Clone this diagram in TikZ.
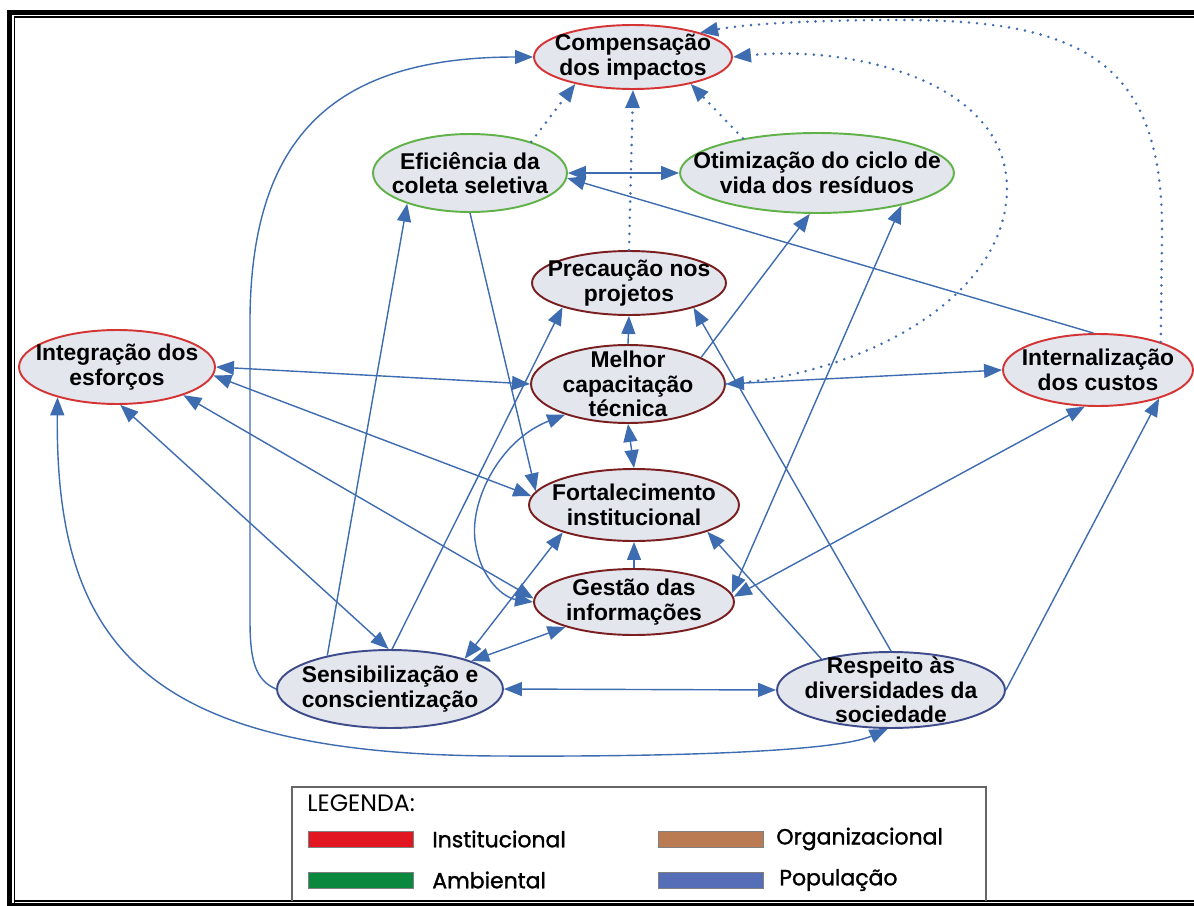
\documentclass[tikz,border=0pt]{standalone}
\usepackage{fontspec}
\setmainfont{Liberation Sans}
\newfontfamily\legfont{Poppins}
\newfontfamily\legitemfont[FakeBold=1.4]{Poppins}
\usetikzlibrary{shapes.geometric,arrows.meta}

\definecolor{nodefill}{RGB}{228,230,238}
\definecolor{linkblue}{RGB}{62,108,176}
\definecolor{instred}{RGB}{212,52,52}
\definecolor{ambgreen}{RGB}{96,178,72}
\definecolor{orgbrown}{RGB}{122,30,32}
\definecolor{popblue}{RGB}{62,76,140}
\definecolor{swred}{RGB}{226,22,32}
\definecolor{swbrown}{RGB}{186,122,82}
\definecolor{swgreen}{RGB}{10,136,62}
\definecolor{swblue}{RGB}{86,110,184}
\newcommand{\entfont}{\fontsize{13}{14}\selectfont\bfseries}

\tikzset{
  ent/.style={ellipse, draw, line width=1.1pt, fill=nodefill, inner sep=0pt},
  txt/.style={font=\entfont, align=center},
  inst/.style={ent, draw=instred},
  amb/.style={ent, draw=ambgreen},
  org/.style={ent, draw=orgbrown},
  pop/.style={ent, draw=popblue},
  tip/.tip={Triangle[length=3.6mm,width=2.8mm]},
  link/.style={draw=linkblue, line width=0.8pt, -tip},
  both/.style={link, tip-tip},
  dots/.style={link, line width=1.6pt, line cap=round, dash pattern=on 0pt off 4.6pt},
  swatch/.style={draw=black!50, line width=0.3pt, minimum width=2.1cm, minimum height=0.32cm, inner sep=0pt},
  legtxt/.style={anchor=west, inner sep=0pt, font=\legitemfont\fontsize{12.5}{14}\selectfont}
}

\begin{document}
\begin{tikzpicture}[x=0.02cm, y=-0.02cm]
\useasboundingbox (0,0) rectangle (1194,906);

% moldura
\fill (7,9.5) rectangle (1194,15);
\fill (7,9.5) rectangle (12,906);
\fill (12,903) rectangle (1194,906);
\draw[line width=0.85pt] (14.5,906) -- (14.5,17) -- (1194,17);
\draw[line width=0.85pt] (14.5,901) -- (1194,901);

% componentes
\node[inst, minimum width=3.96cm, minimum height=1.28cm, label={[txt]center:{Compensação\\dos impactos}}] (comp) at (633,57) {};
\node[amb, minimum width=3.88cm, minimum height=1.56cm, label={[txt]center:{Eficiência da\\coleta seletiva}}] (efic) at (470,173) {};
\node[amb, minimum width=5.48cm, minimum height=1.6cm, label={[txt]center:{Otimização do ciclo de\\vida dos resíduos}}] (otim) at (817,173) {};
\node[org, minimum width=3.88cm, minimum height=1.28cm, label={[txt]center:{Precaução nos\\projetos}}] (prec) at (629,283) {};
\node[org, minimum width=3.88cm, minimum height=1.56cm, label={[txt]center:{Melhor\\capacitação\\técnica}}] (melh) at (628,384) {};
\node[org, minimum width=4.2cm, minimum height=1.44cm, label={[txt]center:{Fortalecimento\\institucional}}] (fort) at (634,505) {};
\node[org, minimum width=4.0cm, minimum height=1.32cm, label={[txt]center:{Gestão das\\informações}}] (gest) at (634,602) {};
\node[pop, minimum width=4.52cm, minimum height=1.56cm, label={[txt]center:{Sensibilização e\\conscientização}}] (sens) at (390,689) {};
\node[pop, minimum width=4.56cm, minimum height=1.52cm, label={[txt]center:{Respeito às\\diversidades da\\sociedade}}] (resp) at (891,690) {};
\node[inst, minimum width=3.92cm, minimum height=1.48cm, label={[txt]center:{Integração dos\\esforços}}] (integ) at (117,367) {};
\node[inst, minimum width=3.8cm, minimum height=1.44cm, label={[txt]center:{Internalização\\dos custos}}] (intern) at (1098,370) {};

% relações pontilhadas
\draw[dots] (efic.27) -- (comp.205);
\draw[dots] (prec.north) -- (comp.south);
\draw[dots] (otim.155) -- (comp.-25);
\draw[dots] (melh.east) .. controls (860,375) and (1005,300) .. (1007,190)
  .. controls (1008,80) and (850,45) .. (comp.east);
\draw[dots] (intern.24) -- (1162,230) .. controls (1162,60) and (1080,20) .. (900,20)
  .. controls (800,20) and (740,25) .. (comp.20);

% relações
\draw[link] (sens.west) .. controls (255,680) and (250,660) .. (250,620) -- (250,330)
  .. controls (248,140) and (330,57) .. (comp.west);
\draw[both] (efic.east) -- (otim.west);
\draw[link] (efic.south) -- (fort.172);
\draw[link] (sens.152) -- (efic.206);
\draw[link] (sens.87) -- (prec.200);
\draw[both] (integ.east) -- (melh.west);
\draw[both] (integ.-5) -- (fort.175);
\draw[both] (integ.-23) -- (gest.178);
\draw[both] (integ.-85) -- (sens.92);
\draw[both] (integ.207) .. controls (55,650) and (150,755) .. (500,756)
  .. controls (700,757) and (840,750) .. (resp.-95);
\draw[both] (sens.east) -- (resp.west);
\draw[both] (sens.19) -- (gest.200);
\draw[both] (sens.22) -- (fort.201);
\draw[link] (gest.north) -- (fort.south);
\draw[both] (melh.south) -- (fort.north);
\draw[link] (melh.north) -- (prec.south);
\draw[link] (melh.20) -- (otim.-100);
\draw[both] (melh.206) .. controls (500,440) and (470,500) .. (475,540)
  .. controls (480,580) and (505,598) .. (gest.180);
\draw[both] (otim.-21) -- (gest.5);
\draw[both] (intern.-110) -- (gest.3);
\draw[link] (resp.east) -- (intern.-25);
\draw[link] (resp.156) -- (fort.-20);
\draw[link] (resp.north) -- (prec.-21);
\draw[link] (intern.97) -- (efic.-3);
\draw[both] (melh.east) -- (intern.west);

% legenda
\draw[black!60, line width=0.6pt] (292,901) -- (292,787) -- (986,787) -- (986,901);
\node[legtxt, font=\legfont\fontsize{13.5}{15}\selectfont] (legtit) at (307,803) {LEGENDA:};
\node[swatch, fill=swred] (sw1) at (360.5,839) {};
\node[legtxt] (lb1) at (432,839) {Institucional};
\node[swatch, fill=swbrown] (sw2) at (711,839) {};
\node[legtxt] (lb2) at (776,839) {Organizacional};
\node[swatch, fill=swgreen] (sw3) at (360.5,880) {};
\node[legtxt] (lb3) at (432,880) {Ambiental};
\node[swatch, fill=swblue] (sw4) at (711,880) {};
\node[legtxt] (lb4) at (779,880) {População};
\end{tikzpicture}
\end{document}
